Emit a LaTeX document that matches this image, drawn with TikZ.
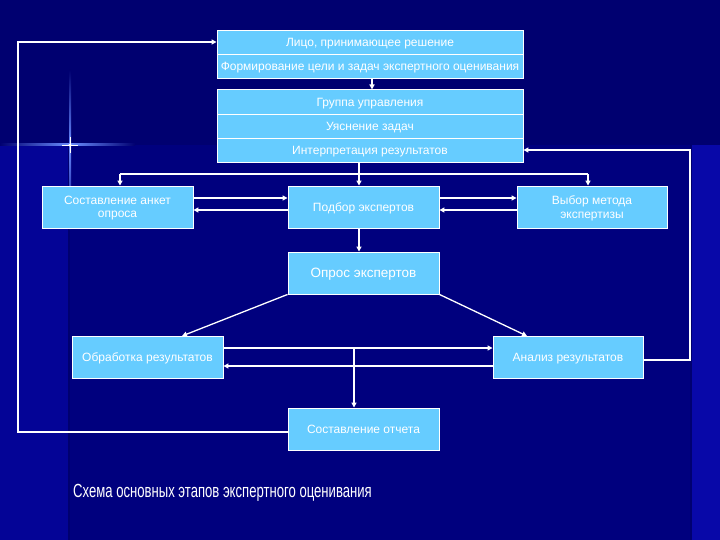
\documentclass[tikz,border=0pt]{standalone}
\usepackage{fontspec}
\usepackage{graphicx}
\setmainfont{Liberation Sans}
\usetikzlibrary{arrows.meta}
\definecolor{bgtop}{HTML}{000070}
\definecolor{bgmain}{HTML}{00007E}
\definecolor{bgside}{HTML}{040496}
\definecolor{bgright}{HTML}{0808A8}
\definecolor{boxblue}{HTML}{66CCFF}
\definecolor{sparkle}{HTML}{6A8CFF}
\tikzset{
  blk/.style={draw=white, line width=0.9pt, fill=boxblue, text=white, inner sep=0pt,
    font=\fontsize{12}{13.5}\selectfont, align=center, text depth=0pt},
  wide/.style={blk, minimum width=306pt, minimum height=24pt},
  stepbox/.style={blk, minimum width=151pt, minimum height=42pt},
  con/.style={draw=white, line width=1.3pt},
  arr/.style={con, -{Triangle[length=5pt,width=5pt]}},
}
\begin{document}
\begin{tikzpicture}[x=1pt,y=-1pt]
\useasboundingbox (0,0) rectangle (720,540);
% background
\fill[bgtop] (0,0) rectangle (720,540);
\fill[bgmain] (70,145) rectangle (690,540);
\fill[bgside] (0,145) rectangle (68,540);
\fill[bgright] (692,145) rectangle (720,540);
% sparkle
\shade[left color=bgtop, right color=sparkle] (0,144) rectangle (70,146);
\shade[left color=sparkle, right color=bgtop] (70,144) rectangle (135,146);
\shade[top color=bgtop, bottom color=sparkle] (69,70) rectangle (71,145);
\shade[top color=sparkle, bottom color=bgmain] (69,145) rectangle (71,230);
\fill[white] (70,145) circle (1.6pt);
\draw[white, line width=0.6pt] (62,145) -- (78,145) (70,137) -- (70,153);

% top blocks
\node[wide] (lpr) at (370,42) {Лицо, принимающее решение};
\node[wide] (form) at (370,66) {Формирование цели и задач экспертного оценивания};
\node[wide, minimum height=24.33pt] (gr) at (370,102) {Группа управления};
\node[wide, minimum height=24.33pt] (uy) at (370,126.3) {Уяснение задач};
\node[wide, minimum height=24.33pt] (int) at (370,150.7) {Интерпретация результатов};

% row 3
\node[stepbox] (ank) at (117.5,207) {Составление анкет\\опроса};
\node[stepbox] (pod) at (363.5,207) {Подбор экспертов};
\node[stepbox, minimum width=150pt] (vyb) at (592,207) {Выбор метода\\экспертизы};
\node[stepbox, font=\fontsize{13.5}{15}\selectfont] (opr) at (363.5,273) {Опрос экспертов};
\node[stepbox] (obr) at (147.5,357) {Обработка результатов};
\node[stepbox, minimum width=150pt] (an) at (568,357) {Анализ результатов};
\node[stepbox] (otch) at (363.5,429) {Составление отчета};

% caption
\node[anchor=base west, text=white, inner sep=0pt] (cap) at (73,497)
  {\scalebox{0.69}[1]{\fontsize{19}{22}\selectfont Схема основных этапов экспертного оценивания}};

% connectors
\draw[arr] (372,78) -- (372,89.5);
\coordinate (dv) at (359,174);
\draw[con] (int.south -| dv) -- (dv);
\draw[con] (120,174) -- (588,174);
\draw[arr] (120,174) -- (ank.north -| 120,0);
\draw[arr] (dv) -- (pod.north -| dv);
\draw[arr] (588,174) -- (vyb.north -| 588,0);

\draw[arr] (ank.east |- 0,198) -- (pod.west |- 0,198);
\draw[arr] (pod.west |- 0,210) -- (ank.east |- 0,210);
\draw[arr] (pod.east |- 0,198) -- (vyb.west |- 0,198);
\draw[arr] (vyb.west |- 0,210) -- (pod.east |- 0,210);

\draw[arr] (pod.south -| 359,0) -- (opr.north -| 359,0);
\draw[arr] (opr.south west) -- (182,336);
\draw[arr] (opr.south east) -- (527,336);

\draw[arr] (obr.east |- 0,348) -- (an.west |- 0,348);
\draw[arr] (an.west |- 0,366) -- (obr.east |- 0,366);
\draw[arr] (354,348) -- (otch.north -| 354,0);

\draw[arr] (an.east |- 0,360) -- (690,360) -- (690,150) -- (int.east |- 0,150);
\draw[arr] (otch.west |- 0,432) -- (18,432) -- (18,42) -- (lpr.west |- 0,42);
\end{tikzpicture}
\end{document}
